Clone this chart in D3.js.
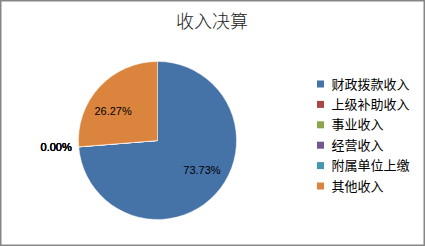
<!DOCTYPE html>
<html><head><meta charset="utf-8">
<script src="https://cdn.jsdelivr.net/npm/d3@7"></script>
<style>html,body{margin:0;padding:0;background:#fff;}svg{display:block;}</style>
</head><body>
<script>
const title = "收入决算";
const categories = ["财政拨款收入","上级补助收入","事业收入","经营收入","附属单位上缴","其他收入"];
const values = [73.73, 0, 0, 0, 0, 26.27];
const colors = ["#4572A7","#AA4643","#89A54E","#71588F","#4198AF","#DB843D"];

const W = 425, H = 246;
const svg = d3.select("body").append("svg").attr("width", W).attr("height", H);
svg.append("rect").attr("x",0.75).attr("y",0.75).attr("width",W-1.5).attr("height",H-1.5)
  .attr("fill","#fff").attr("stroke","#868686").attr("stroke-width",1.5);

svg.append("text").attr("x",212).attr("y",28).attr("text-anchor","middle")
  .attr("font-family","'Noto Sans CJK SC', sans-serif").attr("font-size",18).attr("font-weight",300)
  .attr("fill","#222").text(title);

const cx = 157.5, cy = 140.5, r = 79;
const g = svg.append("g").attr("transform",`translate(${cx},${cy})`);
const data = categories.map((c,i)=>({name:c, value:values[i], color:colors[i]}));
const pie = d3.pie().value(d=>d.value).sort(null);
const arcs = pie(data);
const arc = d3.arc().innerRadius(0).outerRadius(r);
g.selectAll("path").data(arcs).join("path").attr("d",arc).attr("fill",d=>d.data.color)
  .attr("stroke","#fff").attr("stroke-width",0.4);

const fmt = v => v.toFixed(2) + "%";
const inArc = d3.arc().innerRadius(54).outerRadius(54);
const outArc = d3.arc().innerRadius(86).outerRadius(86);
arcs.forEach(a => {
  let x, y, anchor;
  if (a.data.value > 0) {
    const c = inArc.centroid(a);
    x = c[0]*1.12; y = c[1]*0.8; anchor = "middle";
  } else {
    const c = outArc.centroid(a);
    x = c[0]; y = c[1]; anchor = "end";
  }
  g.append("text").attr("x",x).attr("y",y).attr("dy","0.35em").attr("text-anchor",anchor)
    .attr("font-family","'Liberation Sans', 'DejaVu Sans', sans-serif").attr("font-size",11)
    .attr("fill","#000").text(fmt(a.data.value));
});

const ly = d3.scalePoint().domain(categories).range([84, 186]);
const leg = svg.append("g");
categories.forEach((c,i)=>{
  const y = ly(c);
  leg.append("rect").attr("x",317).attr("y",y-3.5).attr("width",7).attr("height",7).attr("fill",colors[i]);
  leg.append("text").attr("x",331.5).attr("y",y).attr("dy","0.36em")
    .attr("font-family","'Noto Sans CJK SC', sans-serif").attr("font-size",13)
    .attr("fill","#000").text(c);
});
</script>
</body></html>
